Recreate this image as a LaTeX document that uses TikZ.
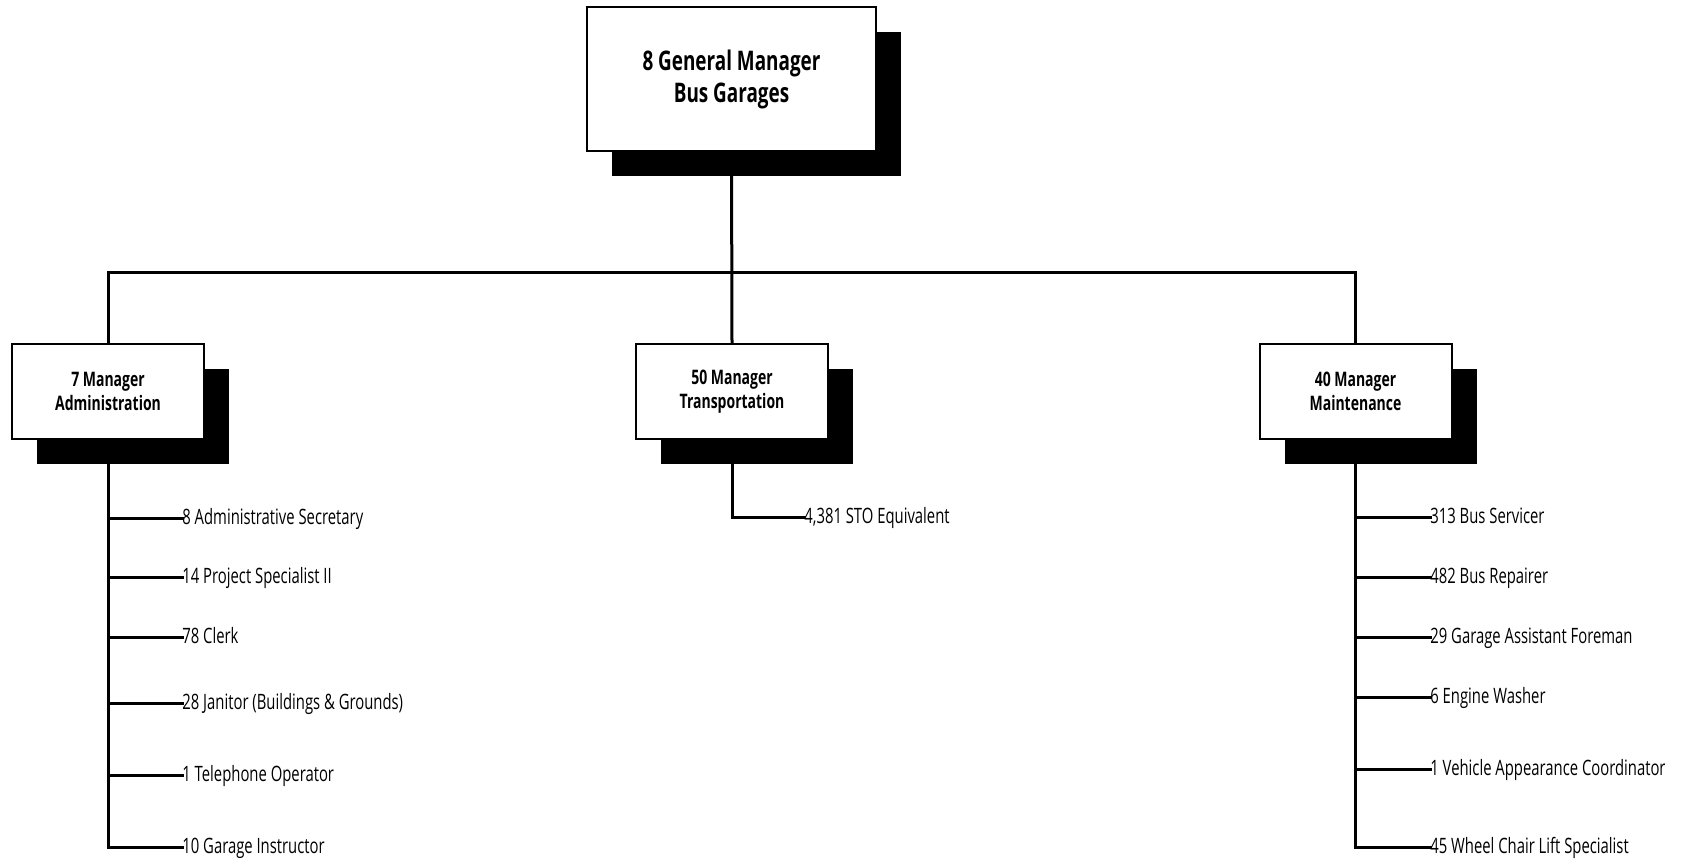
\documentclass[tikz,border=0pt]{standalone}
\usepackage{fontspec}
\setmainfont{Open Sans}[FakeStretch=0.7]
\usetikzlibrary{shadows}
\tikzset{
  conn/.style={line width=1.5pt, line cap=rect},
  unitbox/.style={draw, line width=1pt, fill=white, align=center, inner sep=0pt,
    font=\bfseries\fontsize{10}{12}\selectfont,
    minimum width=96pt, minimum height=47.5pt,
    drop shadow={shadow xshift=12.5pt, shadow yshift=-12.5pt, fill=black, opacity=1}},
  headbox/.style={unitbox, minimum width=144.5pt, minimum height=72pt,
    font=\bfseries\fontsize{13.5}{16}\selectfont},
  item/.style={anchor=west, inner sep=0pt, text height=1.3ex, text depth=0pt,
    font=\fontsize{10.6}{12}\selectfont}
}
\begin{document}
\begin{tikzpicture}[x=0.5pt, y=-0.5pt]
\useasboundingbox (0,0) rectangle (1687,859);

% boxes
\node[headbox] (gm)  at (731.5,79)   {8 General Manager\\Bus Garages};
\node[unitbox] (adm) at (108,391.5)  {7 Manager\\Administration};
\node[unitbox] (trn) at (732,391.5)  {50 Manager\\Transportation};
\node[unitbox] (mnt) at (1355.5,391.5) {40 Manager\\Maintenance};

\coordinate (bus) at (0,272);

% top level connectors
\draw[conn] (gm.south) -- (trn.north);
\draw[conn] (adm.north) |- (mnt.north |- bus) -- (mnt.north);

% administration staff
\node[item] (a1) at (182,518) {8 Administrative Secretary};
\node[item] (a2) at (182,577) {14 Project Specialist II};
\node[item] (a3) at (182,637) {78 Clerk};
\node[item] (a4) at (182,703) {28 Janitor (Buildings \& Grounds)};
\node[item] (a5) at (182,775) {1 Telephone Operator};
\node[item] (a6) at (182,847) {10 Garage Instructor};
\foreach \n in {a1,a2,a3,a4,a5,a6}
  \draw[conn] (adm.south) |- (\n.west);

% transportation staff
\node[item] (t1) at (804,517) {4,381 STO Equivalent};
\draw[conn] (trn.south) |- (t1.west);

% maintenance staff
\node[item] (m1) at (1430,517) {313 Bus Servicer};
\node[item] (m2) at (1430,577) {482 Bus Repairer};
\node[item] (m3) at (1430,637) {29 Garage Assistant Foreman};
\node[item] (m4) at (1430,697) {6 Engine Washer};
\node[item] (m5) at (1430,769) {1 Vehicle Appearance Coordinator};
\node[item] (m6) at (1430,847) {45 Wheel Chair Lift Specialist};
\foreach \n in {m1,m2,m3,m4,m5,m6}
  \draw[conn] (mnt.south) |- (\n.west);
\end{tikzpicture}
\end{document}
